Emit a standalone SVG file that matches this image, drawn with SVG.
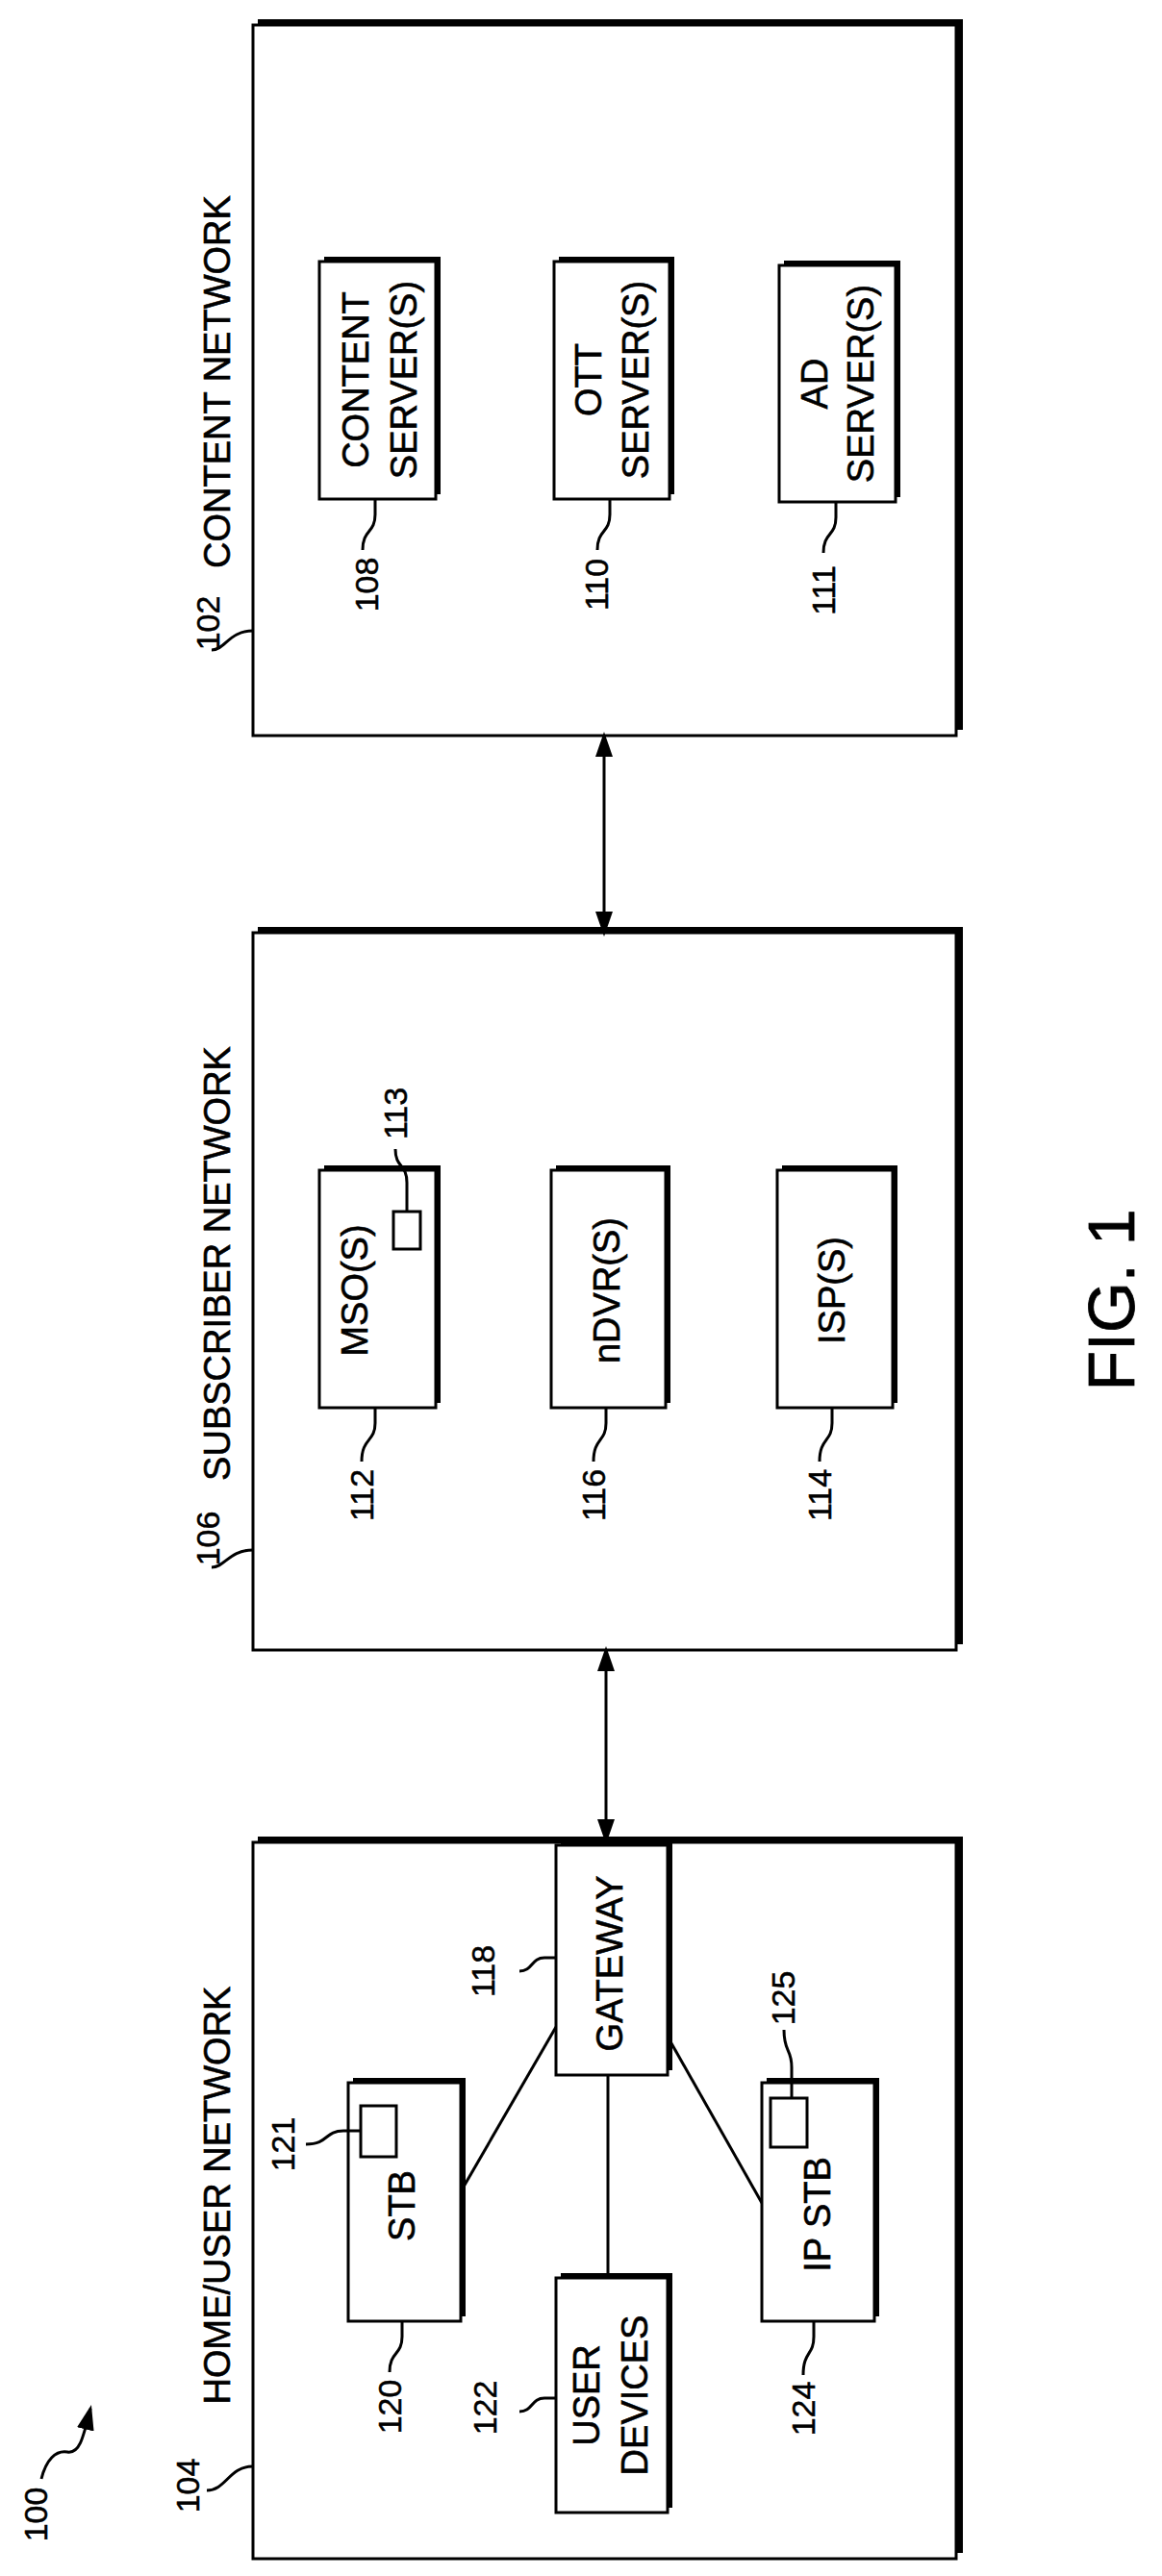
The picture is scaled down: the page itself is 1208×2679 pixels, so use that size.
<svg xmlns="http://www.w3.org/2000/svg" width="1208" height="2679" viewBox="0 0 1208 2679">
<style>
.sh{fill:#000}
.bx{fill:#fff;stroke:#000;stroke-width:3}
.t{font-family:"Liberation Sans",Arial,sans-serif;font-size:38px;fill:#000;stroke:#000;stroke-width:0.6;text-anchor:middle;dominant-baseline:central}
.n{font-family:"Liberation Sans",Arial,sans-serif;font-size:34px;fill:#000;stroke:#000;stroke-width:0.5;text-anchor:middle;dominant-baseline:central}
.ln{fill:none;stroke:#000;stroke-width:3}
</style>
<defs>
<marker id="ah" markerWidth="26" markerHeight="18" refX="22" refY="9" orient="auto-start-reverse" markerUnits="userSpaceOnUse" viewBox="0 0 26 18"><path d="M0,0 L26,9 L0,18 z" fill="#000"/></marker>
</defs>
<g id="content-network">
<rect class="sh" x="268" y="20" width="733" height="739"/>
<rect class="bx" x="263" y="26" width="731" height="739"/>
<text class="n" transform="translate(216,648) rotate(-90)">102</text>
<text class="t" transform="translate(226,397) rotate(-90)">CONTENT NETWORK</text>
<path class="ln" d="M220,676 C234,676 238,656 263,656"/>
</g>
<g id="content-server">
<rect class="sh" x="337" y="267" width="121" height="247"/>
<rect class="bx" x="332" y="272" width="121" height="247"/>
<text class="t" transform="translate(370,395) rotate(-90)">CONTENT</text>
<text class="t" transform="translate(420,395) rotate(-90)">SERVER(S)</text>
<text class="n" transform="translate(381,608) rotate(-90)">108</text>
<path class="ln" d="M390,519 V535 C390,555 377,550 377,572"/>
</g>
<g id="ott-server">
<rect class="sh" x="581" y="267" width="120" height="247"/>
<rect class="bx" x="576" y="272" width="120" height="247"/>
<text class="t" transform="translate(612,395) rotate(-90)">OTT</text>
<text class="t" transform="translate(661,395) rotate(-90)">SERVER(S)</text>
<text class="n" transform="translate(620,608) rotate(-90)">110</text>
<path class="ln" d="M634,519 V535 C634,555 621,550 621,572"/>
</g>
<g id="ad-server">
<rect class="sh" x="815" y="271" width="121" height="246"/>
<rect class="bx" x="810" y="276" width="121" height="246"/>
<text class="t" transform="translate(847,399) rotate(-90)">AD</text>
<text class="t" transform="translate(895,399) rotate(-90)">SERVER(S)</text>
<text class="n" transform="translate(856,614) rotate(-90)">111</text>
<path class="ln" d="M869,522 V538 C869,558 856,553 856,575"/>
</g>
<g id="subscriber-network">
<rect class="sh" x="268" y="964" width="733" height="746"/>
<rect class="bx" x="263" y="970" width="731" height="746"/>
<text class="t" transform="translate(226,1314) rotate(-90)">SUBSCRIBER NETWORK</text>
<text class="n" transform="translate(216,1600) rotate(-90)">106</text>
<path class="ln" d="M220,1630 C234,1630 238,1612 263,1612"/>
</g>
<g id="mso">
<rect class="sh" x="337" y="1212" width="121" height="247"/>
<rect class="bx" x="332" y="1217" width="121" height="247"/>
<text class="t" transform="translate(369,1342) rotate(-90)">MSO(S)</text>
<rect x="409" y="1260" width="28" height="39" fill="#fff" stroke="#000" stroke-width="3"/>
<path class="ln" d="M423,1260 V1230 C423,1210 411,1215 411,1195"/>
<text class="n" transform="translate(411,1158) rotate(-90)">113</text>
<text class="n" transform="translate(376,1555) rotate(-90)">112</text>
<path class="ln" d="M390,1464 V1480 C390,1500 376,1495 376,1520"/>
</g>
<g id="ndvr">
<rect class="sh" x="578" y="1212" width="119" height="247"/>
<rect class="bx" x="573" y="1217" width="119" height="247"/>
<text class="t" transform="translate(631,1342) rotate(-90)">nDVR(S)</text>
<text class="n" transform="translate(617,1555) rotate(-90)">116</text>
<path class="ln" d="M630,1464 V1480 C630,1500 617,1495 617,1520"/>
</g>
<g id="isp">
<rect class="sh" x="813" y="1212" width="120" height="247"/>
<rect class="bx" x="808" y="1217" width="120" height="247"/>
<text class="t" transform="translate(865,1342) rotate(-90)">ISP(S)</text>
<text class="n" transform="translate(852,1555) rotate(-90)">114</text>
<path class="ln" d="M865,1464 V1480 C865,1500 852,1495 852,1520"/>
</g>
<text class="t" style="font-size:68px;stroke-width:0.8" transform="translate(1155,1352) rotate(-90)">FIG. 1</text>
<g id="home-network">
<rect class="sh" x="268" y="1910" width="733" height="745"/>
<rect class="bx" x="263" y="1916" width="731" height="745"/>
<text class="t" transform="translate(226,2283) rotate(-90)">HOME/USER NETWORK</text>
<text class="n" transform="translate(195,2585) rotate(-90)">104</text>
<path class="ln" d="M215,2590 C235,2590 238,2565 263,2565"/>
</g>
<g id="label-100">
<text class="n" transform="translate(37,2615) rotate(-90)">100</text>
<path class="ln" d="M43,2578 C48,2558 58,2548 70,2550 C82,2552 86,2538 94,2505" marker-end="url(#ah)"/>
</g>
<g id="connectors">
<line class="ln" x1="628" y1="765" x2="628" y2="970" marker-start="url(#ah)" marker-end="url(#ah)"/>
<line class="ln" x1="630" y1="1716" x2="630" y2="1914" marker-start="url(#ah)" marker-end="url(#ah)"/>
<line class="ln" x1="578" y1="2108" x2="478" y2="2281"/>
<line class="ln" x1="632" y1="2158" x2="632" y2="2369"/>
<line class="ln" x1="694" y1="2118" x2="792" y2="2291"/>
</g>
<g id="gateway">
<rect class="sh" x="583" y="1914" width="116" height="239"/>
<rect class="bx" x="578" y="1919" width="116" height="239"/>
<text class="t" transform="translate(634,2042) rotate(-90)">GATEWAY</text>
<text class="n" transform="translate(502,2050) rotate(-90)">118</text>
<path class="ln" d="M578,2036 H566 C552,2036 554,2050 540,2050"/>
</g>
<g id="stb">
<rect class="sh" x="367" y="2161" width="117" height="248"/>
<rect class="bx" x="362" y="2166" width="117" height="248"/>
<text class="t" transform="translate(418,2294) rotate(-90)">STB</text>
<rect x="375" y="2190" width="37" height="53" fill="#fff" stroke="#000" stroke-width="3"/>
<path class="ln" d="M375,2216 H357 C337,2216 342,2230 318,2230"/>
<text class="n" transform="translate(294,2230) rotate(-90)">121</text>
<text class="n" transform="translate(405,2503) rotate(-90)">120</text>
<path class="ln" d="M418,2414 V2430 C418,2450 405,2445 405,2467"/>
</g>
<g id="user-devices">
<rect class="sh" x="583" y="2364" width="116" height="244"/>
<rect class="bx" x="578" y="2369" width="116" height="244"/>
<text class="t" transform="translate(610,2491) rotate(-90)">USER</text>
<text class="t" transform="translate(660,2491) rotate(-90)">DEVICES</text>
<text class="n" transform="translate(504,2504) rotate(-90)">122</text>
<path class="ln" d="M578,2494 H566 C552,2494 554,2508 540,2508"/>
</g>
<g id="ip-stb">
<rect class="sh" x="797" y="2161" width="117" height="248"/>
<rect class="bx" x="792" y="2166" width="117" height="248"/>
<text class="t" transform="translate(850,2303) rotate(-90)">IP STB</text>
<rect x="801" y="2182" width="38" height="51" fill="#fff" stroke="#000" stroke-width="3"/>
<path class="ln" d="M823,2182 V2150 C823,2130 815,2135 815,2111"/>
<text class="n" transform="translate(814,2078) rotate(-90)">125</text>
<text class="n" transform="translate(835,2505) rotate(-90)">124</text>
<path class="ln" d="M846,2414 V2430 C846,2450 835,2445 835,2470"/>
</g>
</svg>
